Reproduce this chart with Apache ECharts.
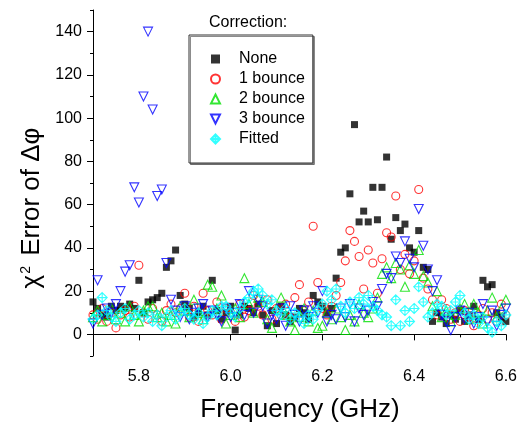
<!DOCTYPE html>
<html>
<head>
<meta charset="utf-8">
<script src="https://cdn.jsdelivr.net/npm/echarts@6/dist/echarts.min.js"></script>
<style>html,body{margin:0;padding:0;background:#fff}#c{width:520px;height:427px}</style>
</head>
<body>
<div id="c"></div>
<script>
const freq = [5.70,5.71,5.72,5.73,5.74,5.75,5.76,5.77,5.78,5.79,
5.80,5.81,5.82,5.83,5.84,5.85,5.86,5.87,5.88,5.89,
5.90,5.91,5.92,5.93,5.94,5.95,5.96,5.97,5.98,5.99,
6.00,6.01,6.02,6.03,6.04,6.05,6.06,6.07,6.08,6.09,
6.10,6.11,6.12,6.13,6.14,6.15,6.16,6.17,6.18,6.19,
6.20,6.21,6.22,6.23,6.24,6.25,6.26,6.27,6.28,6.29,
6.30,6.31,6.32,6.33,6.34,6.35,6.36,6.37,6.38,6.39,
6.40,6.41,6.42,6.43,6.44,6.45,6.46,6.47,6.48,6.49,
6.50,6.51,6.52,6.53,6.54,6.55,6.56,6.57,6.58,6.59,6.60];

const none = [15,12,9,8,13,11,13,12,14,12,
25,10,15,16,17,19,31,34,39,18,
14,12,8,10,13,9,25,11,7,10,
13,2,9,13,12,10,14,9,4,11,
5,13,9,6,8,12,10,7,18,15,
13,10,12,26,38,40,65,97,52,57,
52,68,53,68,82,44,54,48,51,40,
38,48,31,30,6,10,8,5,9,7,
11,6,9,13,7,25,22,23,10,8,6];

const bounce1 = [9,7,12,6,10,3,9,11,8,13,
32,10,7,12,9,6,11,14,10,12,
19,8,13,6,19,11,9,15,7,12,
10,6,14,8,11,18,13,9,16,7,
12,9,14,8,17,23,11,15,50,24,
12,9,13,18,24,34,48,43,36,21,
39,33,19,35,47,45,64,30,37,28,
34,67,26,21,16,9,16,12,7,10,
6,11,8,4,9,12,7,10,6,14,9];

const bounce2 = [8,11,6,9,12,7,10,6,13,9,
6,11,13,13,8,10,6,9,5,13,
11,8,16,10,7,23,22,12,18,5,
9,12,8,26,14,10,17,15,7,3,
12,17,9,6,2,8,12,6,11,3,
4,10,7,12,8,2,9,6,14,10,
8,12,17,28,31,26,33,30,22,32,
28,39,27,24,13,20,8,11,6,9,
12,14,7,14,10,5,11,17,8,12,16];

const bounce3 = [5,25,9,12,10,14,20,29,32,68,
61,110,140,104,64,67,33,16,11,8,
13,7,10,12,14,8,11,9,6,12,
8,10,14,9,20,10,16,13,5,9,
7,12,4,13,9,6,11,8,13,10,
20,6,9,7,12,8,14,6,12,9,
11,15,13,21,28,26,36,33,43,35,
31,58,41,30,20,25,9,6,2,8,
11,7,10,5,8,14,6,11,4,9,12];

const fitted = [7,9,17,11,8,6,10,12,7,9,
11,8,10,6,9,4,8,11,7,10,
12,9,7,10,5,8,11,9,13,13,
10,8,12,15,17,20,21,18,14,16,
11,9,12,7,10,8,5,9,7,11,
14,20,16,21,13,10,15,12,17,14,
18,13,11,9,8,4,16,4,11,6,
12,22,15,8,10,14,13,9,11,15,
18,10,7,9,5,8,3,1,6,4,9];

const seriesNames = ['None', '1 bounce', '2 bounce', '3 bounce', 'Fitted'];
const xMajor = [5.8, 6.0, 6.2, 6.4, 6.6];
const xMinor = [5.7, 5.9, 6.1, 6.3, 6.5];
const yMajor = [0, 20, 40, 60, 80, 100, 120, 140];
const yMinor = [-10, 10, 30, 50, 70, 90, 110, 130, 150];

function pts(vals) {
  const out = [];
  for (let i = 0; i < freq.length; i++) if (vals[i] != null) out.push([freq[i], vals[i]]);
  return out;
}

const FONT = 'Liberation Sans, Arial, sans-serif';
const chart = echarts.init(document.getElementById('c'), null, {renderer: 'canvas'});

const triDown = 'path://M-1,-1 L1,-1 L0,1 Z';
const triUp = 'path://M0,-1 L1,1 L-1,1 Z';
const diamondCross = 'path://M0,-1 L1,0 L0,1 L-1,0 Z M0,-1 L0,1 M-1,0 L1,0';
const clear = 'rgba(0,0,0,0)';

const styles = [
  {symbol: 'rect', symbolSize: 7, itemStyle: {color: '#000000'}},
  {symbol: 'circle', symbolSize: 8, itemStyle: {color: clear, borderColor: '#ff0000', borderWidth: 1.1}},
  {symbol: triUp, symbolSize: 9, itemStyle: {color: clear, borderColor: '#00e000', borderWidth: 1.1}},
  {symbol: triDown, symbolSize: 9, itemStyle: {color: clear, borderColor: '#0000ff', borderWidth: 1.1}},
  {symbol: diamondCross, symbolSize: 10, itemStyle: {color: clear, borderColor: '#00ffff', borderWidth: 1.1}}
];
const datasets = [none, bounce1, bounce2, bounce3, fitted];

const series = seriesNames.map((n, k) => Object.assign({
  name: n, type: 'scatter', xAxisIndex: 0, yAxisIndex: 0,
  data: pts(datasets[k]), animation: false, clip: true
}, styles[k]));

const axisLineStyle = {color: '#000', width: 1};

chart.setOption({
  animation: false,
  grid: {left: 93, right: 14, top: 10, bottom: 71},
  xAxis: [
    {type: 'value', min: 5.7, max: 6.6, position: 'bottom',
     axisLine: {show: true, lineStyle: axisLineStyle},
     axisTick: {show: true, customValues: xMajor, length: 6, lineStyle: axisLineStyle},
     axisLabel: {customValues: xMajor, formatter: v => Number(v).toFixed(1), margin: 13,
                 fontSize: 16, color: '#000', fontFamily: FONT},
     splitLine: {show: false}},
    {type: 'value', min: 5.7, max: 6.6, position: 'bottom',
     axisLine: {show: false},
     axisTick: {show: true, customValues: xMinor, length: 3, lineStyle: axisLineStyle},
     axisLabel: {show: false}, splitLine: {show: false}}
  ],
  yAxis: [
    {type: 'value', min: -10, max: 150, position: 'left',
     axisLine: {show: true, lineStyle: axisLineStyle},
     axisTick: {show: true, customValues: yMajor, length: 6, lineStyle: axisLineStyle},
     axisLabel: {customValues: yMajor, margin: 11, fontSize: 16, color: '#000', fontFamily: FONT},
     splitLine: {show: false}},
    {type: 'value', min: -10, max: 150, position: 'left',
     axisLine: {show: false},
     axisTick: {show: true, customValues: yMinor, length: 3, lineStyle: axisLineStyle},
     axisLabel: {show: false}, splitLine: {show: false}}
  ],
  legend: {
    orient: 'vertical', left: 189, top: 35,
    padding: [16, 8, 16, 21],
    itemWidth: 9, itemHeight: 9, itemGap: 4,
    borderColor: '#333', borderWidth: 1,
    shadowColor: 'rgba(0,0,0,0.45)', shadowOffsetX: 1.5, shadowOffsetY: 1.5, shadowBlur: 0,
    backgroundColor: '#fff',
    textStyle: {fontSize: 16, color: '#000', fontFamily: FONT, padding: [0, 0, 0, 14]},
    data: seriesNames
  },
  graphic: [
    {type: 'text', x: 209, y: 23, style: {text: 'Correction:', font: '16px ' + FONT, fill: '#000',
      textAlign: 'left', textVerticalAlign: 'middle'}},
    {type: 'text', x: 300, y: 410, style: {text: 'Frequency (GHz)', font: '26px ' + FONT, fill: '#000',
      textAlign: 'center', textVerticalAlign: 'middle'}},
    {type: 'text', x: 32, y: 208, rotation: Math.PI / 2,
     style: {text: '{c|χ}{s|2}{t| Error of Δφ}', fill: '#000', textAlign: 'center', textVerticalAlign: 'middle',
       font: '26px ' + FONT,
       rich: {c: {fontSize: 26, fontFamily: FONT},
              s: {fontSize: 14, fontFamily: FONT, verticalAlign: 'top', padding: [0, 3, 0, 1]},
              t: {fontSize: 26, fontFamily: FONT}}}}
  ],
  series: series
});
</script>
</body>
</html>
